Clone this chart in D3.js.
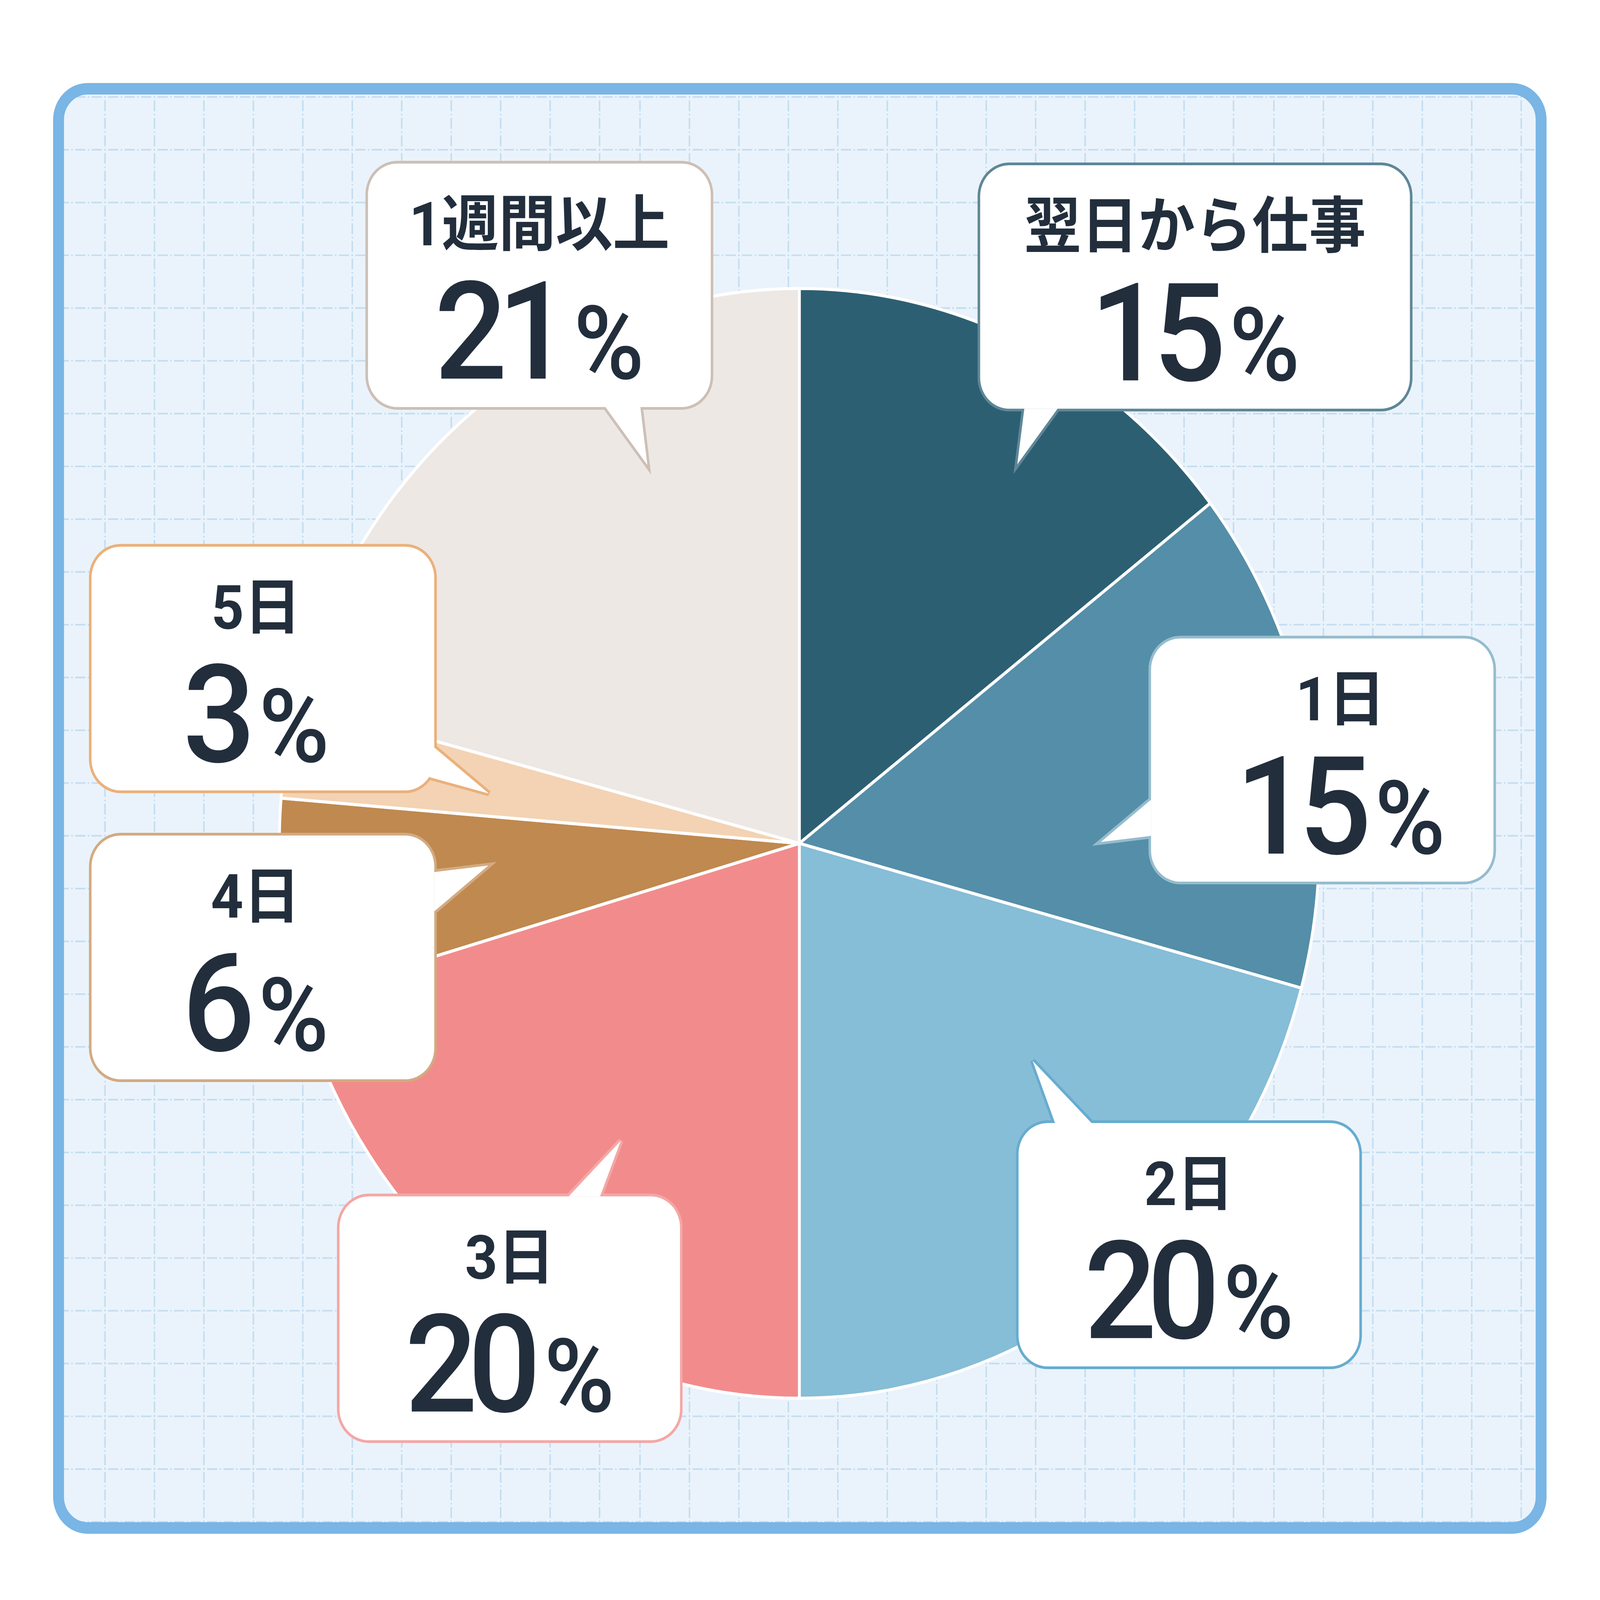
<!DOCTYPE html>
<html>
<head>
<meta charset="utf-8">
<script src="https://cdn.jsdelivr.net/npm/d3@7/dist/d3.min.js"></script>
<style>
  html, body { margin: 0; padding: 0; background: #ffffff; overflow: hidden; width: 100%; height: 100%; }
  svg { display: block; width: 100vw; height: 100vh; }
</style>
</head>
<body>
<script>
// ---------------- data ----------------
const categories   = ['翌日から仕事', '1日', '2日', '3日', '4日', '5日', '1週間以上'];
const values       = [14.5, 14.7, 20.8, 20.5, 5.8, 2.8, 20.9];
const percentLabels = ['15', '15', '20', '20', '6', '3', '21'];

// ---------------- styles ----------------
const sliceColors   = ['#2d5f73', '#548ea8', '#86bdd7', '#f28c8c', '#bf894f', '#f3d3b4', '#ede8e4'];
const calloutColors = ['#5e8797', '#95bccd', '#66acd0', '#f4a7a6', '#d3aa82', '#ebb07a', '#cdbfb6'];
const textColor = '#222e3c';

// ---------------- layout (annotation boxes) ----------------
const W = 5000, H = 4686;
const frame = { x: 183, y: 260, w: 4633, h: 4215, r: 91, sw: 34 };
const pieCenter = { x: 2498, y: 2470 }, pieRadius = 1625;
const calloutLayout = [
  { box: [3063, 484, 1343, 713], tx: 0,   ptr: [[3201, 1197], [3179, 1360], [3305, 1197]] },
  { box: [3597, 1870, 1070, 712], tx: 57, ptr: [[3597, 2342], [3440, 2466], [3597, 2448]] },
  { box: [3183, 3289, 1065, 713], tx: 0,  ptr: [[3297, 3289], [3227, 3107], [3411, 3289]] },
  { box: [1061, 3504, 1064, 714], tx: 0,  ptr: [[1777, 3504], [1940, 3341], [1875, 3504]] },
  { box: [286, 2447, 1071, 714], tx: -23, ptr: [[1357, 2554], [1526, 2535], [1357, 2669]] },
  { box: [286, 1601, 1071, 714], tx: -21, ptr: [[1357, 2189], [1528, 2324], [1342, 2276]] },
  { box: [1150, 479, 1071, 713], tx: 0,   ptr: [[1892, 1192], [2023, 1362], [2001, 1192]] }
];

const svg = d3.select('body').append('svg')
  .attr('viewBox', `0 0 ${W} ${H}`)
  .attr('preserveAspectRatio', 'none');

svg.append('rect').attr('width', W).attr('height', H).attr('fill', '#ffffff');

// ---------------- frame background + grid ----------------
const defs = svg.append('defs');
defs.append('clipPath').attr('id', 'frameClip')
  .append('rect')
  .attr('x', frame.x).attr('y', frame.y)
  .attr('width', frame.w).attr('height', frame.h)
  .attr('rx', frame.r).attr('ry', frame.r);

svg.append('rect')
  .attr('x', frame.x).attr('y', frame.y)
  .attr('width', frame.w).attr('height', frame.h)
  .attr('rx', frame.r).attr('ry', frame.r)
  .attr('fill', '#eaf3fb');

const grid = svg.append('g').attr('clip-path', 'url(#frameClip)')
  .attr('stroke', '#c4ddf1').attr('stroke-width', 4.7).attr('fill', 'none');
const cell = 154.56, sub = cell / 3, dash = '4.7 7.35 32.1 7.35';
const tileW = 1981, tileX0 = 19, gridY0 = 284;
const tiles = d3.range(3).map(j => tileX0 + j * tileW);
const hLines = d3.range(-1, 28).map(k => gridY0 + k * cell);
tiles.forEach(tx => {
  d3.range(13).forEach(k => {
    const x = tx + k * cell;
    if (x > W) return;
    grid.append('line')
      .attr('x1', x).attr('x2', x)
      .attr('y1', gridY0 - 3 * sub - 2.35).attr('y2', H)
      .attr('stroke-dasharray', dash);
  });
  hLines.forEach(y => {
    grid.append('line')
      .attr('x1', tx - 2.35).attr('x2', tx + tileW - 2.35)
      .attr('y1', y).attr('y2', y)
      .attr('stroke-dasharray', dash);
  });
});

// frame border
svg.append('rect')
  .attr('x', frame.x).attr('y', frame.y)
  .attr('width', frame.w).attr('height', frame.h)
  .attr('rx', frame.r).attr('ry', frame.r)
  .attr('fill', 'none').attr('stroke', '#79b5e5').attr('stroke-width', frame.sw);

// ---------------- pie ----------------
const data = categories.map((c, i) => ({ cat: c, value: values[i], label: percentLabels[i], i }));
const pie = d3.pie().value(d => d.value).sort(null).startAngle(0).endAngle(2 * Math.PI);
const arc = d3.arc().innerRadius(0).outerRadius(pieRadius);
const color = d3.scaleOrdinal().domain(categories).range(sliceColors);
const strokeColor = d3.scaleOrdinal().domain(categories).range(calloutColors);

svg.append('g')
  .attr('transform', `translate(${pieCenter.x},${pieCenter.y})`)
  .selectAll('path')
  .data(pie(data))
  .join('path')
  .attr('d', arc)
  .attr('fill', d => color(d.data.cat))
  .attr('stroke', '#ffffff')
  .attr('stroke-width', 9)
  .attr('stroke-linejoin', 'round');

// ---------------- callouts ----------------
const cg = svg.append('g');
data.forEach((d, i) => {
  const L = calloutLayout[i];
  const [bx, by, bw, bh] = L.box;
  const g = cg.append('g');
  const sc = strokeColor(d.cat);
  const tri = d3.line()(L.ptr) + 'Z';
  g.append('rect').attr('x', bx).attr('y', by).attr('width', bw).attr('height', bh)
    .attr('rx', 91).attr('ry', 91)
    .attr('fill', sc).attr('stroke', sc).attr('stroke-width', 16);
  g.append('path').attr('d', tri)
    .attr('fill', sc).attr('stroke', sc).attr('stroke-width', 16).attr('stroke-linejoin', 'miter');
  g.append('rect').attr('x', bx).attr('y', by).attr('width', bw).attr('height', bh)
    .attr('rx', 91).attr('ry', 91).attr('fill', '#ffffff');
  g.append('path').attr('d', tri).attr('fill', '#ffffff');

  const cx = bx + bw / 2 + L.tx;
  g.append('text')
    .attr('x', cx).attr('y', by + 240)
    .attr('text-anchor', 'middle')
    .attr('fill', textColor)
    .style('font-family', "Roboto, 'Noto Sans CJK JP', sans-serif")
    .style('font-weight', 700)
    .style('font-size', '178px')
    .text(d.cat);

  const t = g.append('text')
    .attr('x', cx).attr('y', by + 630)
    .attr('text-anchor', 'middle')
    .attr('fill', textColor)
    .style('font-family', "Roboto, 'Noto Sans', sans-serif")
    .style('font-weight', 500);
  t.append('tspan').style('font-size', '400px').style('letter-spacing', '-30px').text(d.label);
  t.append('tspan').attr('dx', 40).style('font-size', '300px').text('%');
});
</script>
</body>
</html>
